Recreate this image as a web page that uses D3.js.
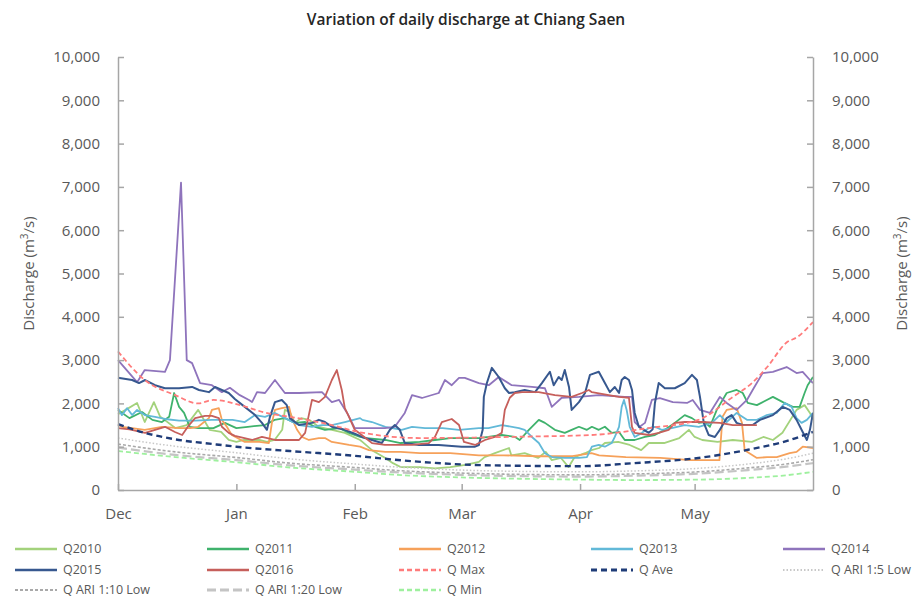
<!DOCTYPE html>
<html>
<head>
<meta charset="utf-8">
<script src="https://cdn.jsdelivr.net/npm/d3@7"></script>
<style>
  body { margin: 0; background: #fff; }
  svg { font-family: "Open Sans", sans-serif; }
</style>
</head>
<body>
<svg id="chart" width="922" height="598"></svg>
<script>
// values are [day since 1 Dec, discharge m3/s]
const q2010 = [[0,1750],[2,1850],[5,2010],[7,1570],[9.4,2030],[11,1700],[15,1430],[18,1500],[21,1850],[24,1390],[27,1340],[29,1155],[31,1110],[33,1155],[37,1155],[39,1110],[41,1155],[43,1390],[43.7,1850],[45,1800],[46.3,1550],[48,1660],[50,1620],[52.6,1460],[56,1390],[59.4,1320],[63.4,1155],[64,1110],[66.5,920],[70,740],[72,620],[74,530],[79,530],[83,500],[87,530],[91,580],[94.5,650],[96,760],[98.7,850],[102.4,970],[103,800],[106.5,850],[110,740],[112,880],[113.6,690],[116,740],[118,530],[119.6,760],[122.3,850],[124,920],[126,970],[127.5,1085],[131,1110],[134,1040],[137,920],[139,1085],[143,1085],[147,1200],[149.5,1390],[151,1225],[153,1155],[157,1110],[161,1155],[166,1110],[169,1225],[171.5,1155],[174,1320],[177.7,1850],[179.8,1960],[181.2,1780],[182,1620]];
const q2011 = [[0,1850],[3,1660],[6.3,1800],[9,1620],[11.5,1570],[13.4,1690],[14.7,2240],[16,1920],[17.3,1780],[18.8,1460],[21,1430],[25,1430],[28,1550],[31,1430],[34,1460],[38.5,1500],[41,1620],[43.7,1660],[46.3,1550],[49,1570],[51.6,1460],[54.2,1390],[58,1430],[60.5,1320],[63.4,1225],[65,1200],[70,1155],[74,1085],[79,1110],[83,1155],[87,1200],[94.5,1200],[97,1225],[100.5,1270],[104,1225],[105.2,1155],[107.6,1390],[110.2,1620],[111.8,1550],[114.4,1390],[117,1320],[118.8,1390],[120.7,1460],[122.8,1390],[124.1,1460],[125.9,1390],[127.5,1460],[129.3,1320],[131.2,1340],[132.7,1155],[135.3,1155],[138,1225],[140.6,1270],[143.2,1390],[145.8,1550],[148.4,1730],[150.3,1660],[152.1,1550],[153.7,1570],[155,1460],[156.8,1850],[159.4,2240],[162,2310],[163.6,2240],[164.9,2010],[167.3,1960],[169.9,2080],[171.5,2150],[174.1,2030],[176.7,1920],[178.5,1920],[179.8,2240],[180.6,2420],[182,2610]];
const q2012 = [[0,1500],[1,1460],[3.7,1430],[7,1390],[11.5,1460],[16,1430],[19,1430],[21,1460],[23.8,1660],[24.6,1850],[26.4,1890],[27.2,1620],[28.5,1460],[29.8,1270],[33.2,1110],[37,1110],[39.5,1085],[40.3,1550],[41.1,1850],[42.9,1890],[44.8,1920],[45.5,1660],[46.9,1390],[48.2,1225],[50,1155],[52.6,1200],[54.2,1200],[56,1110],[57.9,1085],[60.5,1040],[63.4,1000],[65.7,920],[70,880],[74,880],[79,850],[87,850],[94.5,800],[101,800],[110,780],[119,780],[124,850],[126,800],[133,760],[142,740],[150,690],[157.5,690],[158.3,1690],[159.4,1850],[162,1890],[163.4,1550],[164.1,920],[167.3,740],[170,760],[172.5,760],[175.9,850],[177.7,880],[179.3,1000],[182,970]];
const q2013 = [[0,1890],[1,1730],[2.4,1890],[3.7,1730],[5,1850],[7,1730],[9.7,1690],[12.3,1640],[16,1600],[20.2,1600],[24.6,1620],[30,1620],[33.2,1570],[35.9,1730],[38.5,1690],[41.1,1780],[43.7,1660],[47.4,1500],[50.8,1460],[53.4,1500],[56,1500],[59.4,1570],[63.4,1660],[64,1620],[66.5,1570],[70,1460],[74.3,1390],[77,1460],[80.4,1430],[85,1430],[89.3,1390],[94.5,1430],[97,1430],[100.5,1500],[105,1430],[106.5,1390],[108.4,1225],[110.2,1085],[111.8,850],[113.6,760],[117,740],[120.7,740],[122.8,760],[124.1,1000],[125.9,1040],[127.5,1000],[129.3,1085],[130.1,1225],[131.2,1460],[131.9,1920],[132.5,2080],[133.2,1850],[134,1460],[135.3,1225],[137.2,1320],[139,1430],[140.6,1460],[142.4,1390],[145,1430],[148.4,1500],[152.1,1460],[155.5,1550],[157.6,1730],[159.4,1570],[162,1780],[164.7,1620],[167.3,1620],[169.9,1730],[172.5,1780],[174.6,2010],[176.4,1920],[177.7,1660],[179,1550],[180.4,1620],[182,1780]];
const q2014 = [[0,3000],[5,2490],[7,2770],[12.3,2730],[13.6,3000],[16.5,7100],[18,3000],[19.4,2930],[21.5,2470],[24.6,2420],[27.2,2260],[29.3,2360],[31.9,2190],[34.3,2080],[35.1,2030],[36.4,2260],[38.5,2240],[41.1,2540],[43.7,2240],[47.4,2240],[53.4,2260],[56,2030],[57.9,2080],[60,1780],[62,1430],[69.9,1430],[72.5,1460],[75.1,1780],[77,2190],[79.6,2125],[84,2240],[85.6,2540],[87.4,2420],[89.3,2590],[90.8,2590],[94.5,2470],[97.1,2420],[99.7,2610],[103.1,2420],[108.4,2380],[111.8,2350],[113.6,1920],[116.2,2130],[120.7,2150],[125.9,2190],[132.7,2150],[134.6,2150],[135.3,1570],[136.6,1460],[138,1550],[139.8,2080],[141.9,2120],[145.3,2030],[149,2010],[150.5,2080],[152.4,1850],[155,1780],[157.6,2150],[159.4,2010],[162,1850],[164.7,2080],[166.2,2310],[168.8,2700],[171.5,2730],[175.1,2840],[177.7,2700],[179.3,2730],[181.2,2540],[182,2470]];
const q2015 = [[0,2590],[3.7,2540],[5.5,2470],[7.1,2540],[9.7,2420],[12.3,2350],[16,2350],[19.4,2380],[21.2,2310],[23.8,2260],[25.4,2380],[27.2,2310],[29,2240],[30.6,2100],[33.2,1920],[35.9,1730],[37.7,1550],[39,1390],[39.8,1690],[41.1,2030],[42.9,2080],[44.2,1960],[45,1660],[47.4,1500],[50.8,1550],[52.6,1620],[54.2,1570],[56,1460],[59.4,1390],[62,1300],[63.9,1225],[66.5,1155],[69.1,1085],[71.2,1390],[72.5,1500],[73.8,1390],[75.1,1085],[78.8,1040],[84,1040],[90,1000],[93.5,1000],[94.5,1040],[95.5,1390],[95.8,2150],[96.6,2470],[97.9,2820],[99.7,2610],[101.3,2350],[102.4,2240],[103.9,2260],[106.5,2310],[109.2,2260],[111,2470],[113.1,2730],[114.1,2420],[115.4,2610],[116.2,2540],[117,2770],[118.1,2380],[118.8,1850],[120.7,2030],[122.3,2240],[123.6,2660],[125.9,2730],[127.5,2470],[128.8,2260],[130.1,2380],[131.2,2240],[131.9,2540],[132.7,2610],[133.8,2540],[134.6,2310],[135.3,1780],[136.4,1460],[139,1320],[140,1400],[140.6,2010],[141.6,2470],[143.2,2350],[145.8,2350],[148.4,2470],[150.3,2660],[151.6,2540],[152.4,2150],[153.4,1550],[154.7,1270],[156.3,1225],[157.6,1390],[159.4,1660],[160.7,1730],[162,1550],[163.6,1500],[166.2,1500],[168.1,1620],[171.5,1730],[174.1,1920],[175.9,1850],[177.7,1620],[179.3,1340],[180.4,1155],[181.2,1390],[182,1780]];
const q2016 = [[0,1430],[3,1400],[7.1,1320],[9.7,1390],[12.3,1460],[14.9,1340],[16.8,1270],[18.6,1500],[20.2,1660],[22.8,1710],[24.6,1710],[26.4,1660],[27.2,1460],[29,1320],[30.6,1250],[35.1,1155],[37.7,1225],[41.1,1155],[47.4,1155],[49,1320],[50.8,2080],[52.6,2030],[54.2,2150],[56,2540],[57.3,2770],[58.6,2310],[59.4,1890],[60.5,1690],[62,1390],[63.4,1300],[66.5,1085],[69.9,1040],[77,1040],[81.4,1085],[83,1225],[84.8,1570],[87.4,1640],[89.3,1500],[90.6,1110],[93.5,1040],[96.1,1155],[98.7,1225],[100.5,1320],[101.3,1850],[102.6,2130],[103.9,2240],[105.8,2260],[110.2,2260],[114.4,2190],[118.8,2150],[121.5,2240],[123.3,2310],[124.1,2260],[128.5,2190],[131.2,2150],[133.8,2130],[134.6,1460],[135.3,1320],[139,1270],[141.6,1320],[144.2,1390],[145.8,1550],[148.4,1570],[152.9,1570],[157.6,1550],[161,1500],[165.4,1500],[167.3,1500]];
const qMax = [[0,3200],[7,2540],[15,2190],[21,2000],[25,2080],[32,1960],[38,1800],[47,1660],[56,1500],[63,1340],[79,1200],[105,1230],[124,1270],[139,1430],[152,1620],[161,2150],[166,2470],[170,2840],[175,3400],[178,3540],[182,3880]];
const qAve = [[0,1520],[7,1320],[15,1170],[25,1060],[31,1000],[45,900],[62,790],[75,680],[90,590],[105,560],[121,550],[135,620],[152,740],[165,930],[175,1130],[182,1340]];
const qAri5 = [[0,1200],[15,1010],[31,860],[45,720],[62,600],[75,520],[90,460],[105,430],[121,420],[135,440],[152,500],[165,600],[175,720],[182,850]];
const qAri10 = [[0,1060],[15,880],[31,750],[45,620],[62,520],[75,440],[90,390],[105,360],[121,350],[135,370],[152,420],[165,510],[175,600],[182,700]];
const qAri20 = [[0,980],[15,810],[31,690],[45,570],[62,470],[75,400],[90,350],[105,320],[121,310],[135,330],[152,380],[165,460],[175,540],[182,620]];
const qMin = [[0,900],[15,760],[31,640],[45,520],[62,420],[75,340],[90,290],[105,260],[121,240],[135,230],[152,240],[165,280],[175,340],[182,420]];

const seriesNames = ["Q2010","Q2011","Q2012","Q2013","Q2014","Q2015","Q2016","Q Max","Q Ave","Q ARI 1:5 Low","Q ARI 1:10 Low","Q ARI 1:20 Low","Q Min"];
const seriesData = [q2010,q2011,q2012,q2013,q2014,q2015,q2016,qMax,qAve,qAri5,qAri10,qAri20,qMin];
const yTicks = [0,1000,2000,3000,4000,5000,6000,7000,8000,9000,10000];

const styles = [
  {color:"#a3d27c", width:1.8},
  {color:"#3fb26c", width:1.8},
  {color:"#f6a15a", width:1.8},
  {color:"#62b9d8", width:1.8},
  {color:"#8f74bc", width:1.8},
  {color:"#37588f", width:2},
  {color:"#c65f5b", width:1.8},
  {color:"#ff7b7b", width:1.8, dash:"5,3", smooth:true},
  {color:"#1f3c78", width:2.4, dash:"6,4", smooth:true},
  {color:"#c8c8c8", width:1.5, dash:"1.5,2", smooth:true},
  {color:"#a9a9a9", width:1.6, dash:"3,2", smooth:true},
  {color:"#c4c4c4", width:2.2, dash:"9,4", smooth:true},
  {color:"#9ef09e", width:1.8, dash:"5,3", smooth:true}
];

const svg = d3.select("#chart");
const plotL = 118, plotR = 813, plotT = 57, plotB = 490;
const t0 = Date.UTC(2014, 11, 1), t1 = Date.UTC(2015, 5, 1);
const dayMs = 864e5;

const x = d3.scaleUtc().domain([new Date(t0), new Date(t1)]).range([plotL, plotR]);
const y = d3.scaleLinear().domain([0, 10000]).range([plotB, plotT]);
const dayToDate = d => new Date(t0 + d * dayMs);

// title
svg.append("text")
  .attr("x", 466).attr("y", 25)
  .attr("text-anchor", "middle")
  .attr("font-size", 15.5).attr("font-weight", 600).attr("fill", "#262626")
  .text("Variation of daily discharge at Chiang Saen");

// series
const lineGen = d3.line().x(p => x(dayToDate(p[0]))).y(p => y(p[1]));
seriesData.forEach((data, i) => {
  const st = styles[i];
  svg.append("path")
    .datum(data)
    .attr("fill", "none")
    .attr("stroke", st.color)
    .attr("stroke-width", st.width)
    .attr("stroke-dasharray", st.dash || null)
    .attr("stroke-linejoin", "round")
    .attr("d", lineGen.curve(st.smooth ? d3.curveMonotoneX : d3.curveLinear)(data));
});

// axes
const monthTicks = d3.utcMonth.range(new Date(t0), new Date(t1));
const axisColor = "#a6a6a6";
const labelColor = "#595959";

function styleAxis(g) {
  g.select(".domain").attr("stroke", axisColor).attr("stroke-width", 1.5);
  g.selectAll(".tick line").attr("stroke", axisColor).attr("stroke-width", 1.5);
  g.selectAll(".tick text").attr("fill", labelColor).attr("font-size", 15);
  g.attr("font-family", null);
}

svg.append("g")
  .attr("transform", `translate(0,${plotB})`)
  .call(d3.axisBottom(x).tickValues(monthTicks).tickFormat(d3.utcFormat("%b"))
    .tickSize(-6).tickSizeOuter(0).tickPadding(18))
  .call(styleAxis);

svg.append("g")
  .attr("transform", `translate(${plotL},0)`)
  .call(d3.axisLeft(y).tickValues(yTicks).tickFormat(d3.format(","))
    .tickSize(-6).tickSizeOuter(0).tickPadding(18))
  .call(styleAxis);

svg.append("g")
  .attr("transform", `translate(${plotR},0)`)
  .call(d3.axisRight(y).tickValues(yTicks).tickFormat(d3.format(","))
    .tickSize(-6).tickSizeOuter(0).tickPadding(19))
  .call(styleAxis);

// axis titles
function yTitle(cx) {
  const t = svg.append("text")
    .attr("transform", `translate(${cx},${(plotT + plotB) / 2}) rotate(-90)`)
    .attr("text-anchor", "middle")
    .attr("font-size", 15).attr("fill", labelColor);
  t.append("tspan").text("Discharge (m");
  t.append("tspan").attr("font-size", 10).attr("dy", -6).text("3");
  t.append("tspan").attr("dy", 6).text("/s)");
}
yTitle(34);
yTitle(907);

// legend
const colX = [15, 207, 399, 591, 783];
const rowY = [549, 570, 590];
seriesNames.forEach((name, i) => {
  const st = styles[i];
  const lx = colX[i % 5], ly = rowY[Math.floor(i / 5)];
  svg.append("line")
    .attr("x1", lx).attr("x2", lx + 42).attr("y1", ly).attr("y2", ly)
    .attr("stroke", st.color)
    .attr("stroke-width", st.width + 0.6)
    .attr("stroke-dasharray", st.dash || null);
  svg.append("text")
    .attr("x", lx + 48).attr("y", ly + 4)
    .attr("font-size", 12.5).attr("fill", labelColor)
    .text(name);
});
</script>
</body>
</html>
